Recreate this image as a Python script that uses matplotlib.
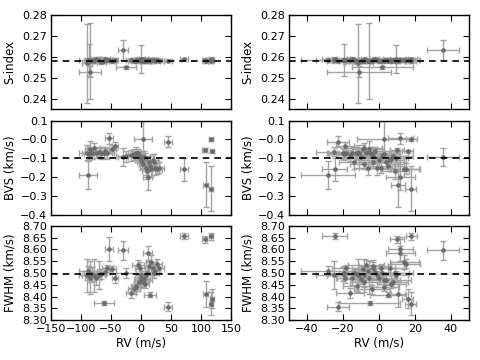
import matplotlib
matplotlib.use("Agg")
import matplotlib.pyplot as plt
import numpy as np

# observed RV and RV residuals (m/s), with shared uncertainty
rv = [-88, 72, 108, 106, 117, 117, 118, 45, -30, 4, -53, -43, -62, -25, -85, -90, -85,
      -82, -78, -75, -70, -66, -60, -57, -48,
      -12, -17, -8, -5, -2, 0, 2, 4, 6, 8, 10, 11, 13, 15, 17, 20, 24, 27, 30,
      -3, 5, -9, 22, 0, -87]
rv_res = [-28, -24.6, 10.6, 10.0, 17.6, 18.0, 16.0, -22.8, 35.6, 3, 12, -19, -5, 2, -11, -11.5, -5.4,
          -20, -8, -15, -25, -12, -2, -18, -9,
          -4, -16, -12, -7, -3, 0, 4, -8, 7, -1, 9, 12, -3, 5, 14, 6, -6, 15, 1,
          8, -10, 3, -14, 9.3, -19.4]
rv_err = [15, 7, 4, 4, 3, 3, 3, 6, 9, 15, 7, 5, 17, 17, 18, 8, 8,
          8, 10, 8, 10, 7, 8, 8, 6,
          10, 8, 8, 10, 8, 10, 8, 8, 8, 10, 8, 8, 8, 10, 8, 8, 8, 8, 8,
          8, 10, 8, 8, 7, 8]

sindex = [0.2585, 0.2588, 0.2583, 0.2585, 0.2583, 0.2588, 0.2585, 0.2582, 0.2635, 0.2582,
          0.2587, 0.2584, 0.2582, 0.2550, 0.2530, 0.2570, 0.2580,
          0.2585, 0.2580, 0.2590, 0.2585, 0.2578, 0.2588, 0.2585, 0.2583,
          0.2582, 0.2585, 0.2583, 0.2587, 0.2585, 0.2582, 0.2585, 0.2588, 0.2583, 0.2585,
          0.2580, 0.2586, 0.2584, 0.2582, 0.2587, 0.2585, 0.2583, 0.2585, 0.2582,
          0.2586, 0.2583, 0.2585, 0.2585, 0.2590, 0.2585]
sindex_err = [0.0010, 0.0008, 0.0010, 0.0008, 0.0010, 0.0008, 0.0008, 0.0007, 0.0048, 0.0010,
              0.0010, 0.0010, 0.0010, 0.0008, 0.0025, 0.0188, 0.0183,
              0.0010, 0.0010, 0.0010, 0.0015, 0.0010, 0.0010, 0.0010, 0.0010,
              0.0008, 0.0008, 0.0008, 0.0008, 0.0008, 0.0008, 0.0008, 0.0008, 0.0008, 0.0008,
              0.0008, 0.0008, 0.0008, 0.0008, 0.0008, 0.0008, 0.0008, 0.0008, 0.0008,
              0.0008, 0.0008, 0.0008, 0.0010, 0.0065, 0.0075]

bvs = [-0.19, -0.16, -0.24, -0.058, -0.263, 0.0, -0.064, -0.013, -0.094, 0.0,
       0.005, -0.036, -0.07, -0.09, -0.075, -0.07, -0.05,
       -0.075, -0.045, -0.07, -0.065, -0.075, -0.06, -0.075, -0.05,
       -0.08, -0.085, -0.07, -0.075, -0.09, -0.11, -0.12, -0.13, -0.10, -0.15,
       -0.17, -0.20, -0.12, -0.14, -0.16, -0.11, -0.15, -0.155, -0.15,
       -0.09, -0.095, -0.08, -0.12, -0.10, -0.08]
bvs_err = [0.075, 0.06, 0.12, 0.01, 0.12, 0.008, 0.01, 0.03, 0.05, 0.10,
           0.03, 0.02, 0.03, 0.03, 0.03, 0.04, 0.04,
           0.03, 0.025, 0.03, 0.025, 0.03, 0.02, 0.03, 0.02,
           0.03, 0.03, 0.03, 0.025, 0.03, 0.03, 0.035, 0.03, 0.03, 0.04,
           0.04, 0.07, 0.03, 0.03, 0.04, 0.03, 0.04, 0.03, 0.03,
           0.03, 0.035, 0.02, 0.04, 0.03, 0.03]

fwhm = [8.51, 8.658, 8.41, 8.644, 8.37, 8.656, 8.39, 8.357, 8.597, 8.47,
        8.601, 8.478, 8.372, 8.50, 8.49, 8.49, 8.48,
        8.495, 8.49, 8.48, 8.49, 8.495, 8.505, 8.52, 8.515,
        8.43, 8.415, 8.443, 8.535, 8.52, 8.48, 8.47, 8.46, 8.455, 8.49,
        8.50, 8.583, 8.53, 8.408, 8.545, 8.52, 8.51, 8.54, 8.52,
        8.46, 8.475, 8.44, 8.50, 8.49, 8.50]
fwhm_err = [0.02, 0.012, 0.055, 0.015, 0.05, 0.015, 0.04, 0.02, 0.04, 0.03,
            0.05, 0.02, 0.01, 0.02, 0.03, 0.07, 0.07,
            0.03, 0.07, 0.03, 0.06, 0.02, 0.015, 0.015, 0.015,
            0.02, 0.02, 0.02, 0.02, 0.025, 0.02, 0.02, 0.02, 0.02, 0.02,
            0.02, 0.03, 0.025, 0.01, 0.03, 0.02, 0.02, 0.02, 0.02,
            0.02, 0.02, 0.015, 0.02, 0.02, 0.03]

# mean levels (dashed lines)
s_mean = 0.2582
bvs_mean = -0.1
fwhm_mean = 8.497

plt.rcParams.update({
    "font.size": 8,
    "xtick.direction": "in",
    "ytick.direction": "in",
    "xtick.top": True,
    "ytick.right": True,
    "xtick.major.size": 4,
    "ytick.major.size": 4,
    "xtick.major.pad": 3,
    "ytick.major.pad": 2.5,
    "axes.linewidth": 1.0,
})

fig, axes = plt.subplots(3, 2, figsize=(4.8, 3.6), dpi=100)
fig.subplots_adjust(left=0.106, right=0.977, top=0.958, bottom=0.111,
                    hspace=0.12, wspace=0.32)

rows = [
    (sindex, sindex_err, s_mean, "S-index", (0.235, 0.28), np.arange(0.24, 0.2801, 0.01), "%.2f"),
    (bvs, bvs_err, bvs_mean, "BVS (km/s)", (-0.4, 0.1), np.arange(-0.4, 0.101, 0.1), "%.1f"),
    (fwhm, fwhm_err, fwhm_mean, "FWHM (km/s)", (8.3, 8.7), np.arange(8.3, 8.701, 0.05), "%.2f"),
]
cols = [
    (rv, (-150, 150), np.arange(-150, 151, 50)),
    (rv_res, (-50, 50), np.arange(-40, 41, 20)),
]

for i, (yv, ye, ymean, ylab, ylim, yticks, fmt) in enumerate(rows):
    for j, (xv, xlim, xticks) in enumerate(cols):
        ax = axes[i, j]
        ax.errorbar(xv, yv, xerr=rv_err, yerr=ye, fmt="o", ms=2.3,
                    color="0.42", mec="0.42", ecolor="0.64", elinewidth=1.0,
                    capsize=2, capthick=1.0, zorder=2)
        ax.axhline(ymean, color="black", ls="--", lw=1.2, dashes=(4, 3), zorder=3)
        ax.set_xlim(*xlim)
        ax.set_ylim(*ylim)
        ax.set_xticks(xticks)
        ax.set_yticks(yticks)
        ax.set_yticklabels([(fmt % t).replace("-", "\u2212") for t in yticks])
        ax.set_ylabel(ylab, fontsize=8.5)
        ax.yaxis.set_label_coords(-0.19, 0.5)
        if i < 2:
            ax.set_xticklabels([])
        else:
            ax.set_xlabel("RV (m/s)", fontsize=8.5, labelpad=2)

fig.savefig("out.png", dpi=100)
